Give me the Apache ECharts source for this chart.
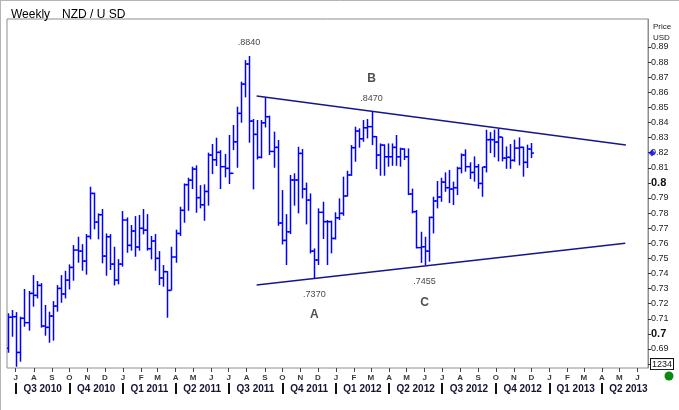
<!DOCTYPE html>
<html>
<head>
<meta charset="utf-8">
<script src="https://cdn.jsdelivr.net/npm/echarts@6/dist/echarts.min.js"></script>
<style>
  html, body { margin: 0; padding: 0; background: #fff; }
  #chart { width: 679px; height: 410px; }
</style>
</head>
<body>
<div id="chart"></div>
<script>
// weekly NZD/USD bars, first bar is the week of 18 Jun 2010
const firstWeek = [2010, 5, 18];

const opens = [
    0.6904, 0.7110, 0.7114, 0.6877, 0.7103, 0.7074, 0.7268, 0.7255, 0.7321, 0.7052,
    0.7043, 0.7118, 0.7184, 0.7301, 0.7264, 0.7356, 0.7440, 0.7555, 0.7548, 0.7482,
    0.7645, 0.7930, 0.7740, 0.7789, 0.7515, 0.7643, 0.7462, 0.7356, 0.7462, 0.7754,
    0.7586, 0.7681, 0.7575, 0.7699, 0.7687, 0.7564, 0.7615, 0.7500, 0.7370, 0.7412,
    0.7288, 0.7509, 0.7665, 0.7818, 0.7988, 0.8018, 0.8091, 0.7902, 0.7855, 0.7943,
    0.8184, 0.8153, 0.8202, 0.8107, 0.8096, 0.8063, 0.8272, 0.8460, 0.8654, 0.8787,
    0.8409, 0.8321, 0.8169, 0.8398, 0.8438, 0.8208, 0.8235, 0.7734, 0.7619, 0.7676,
    0.8019, 0.8019, 0.8195, 0.7959, 0.7886, 0.7548, 0.7489, 0.7805, 0.7743, 0.7743,
    0.7632, 0.7769, 0.7798, 0.7913, 0.8052, 0.8233, 0.8343, 0.8292, 0.8365, 0.8372,
    0.8306, 0.8184, 0.8250, 0.8173, 0.8173, 0.8235, 0.8173, 0.8224, 0.8173, 0.7926,
    0.7809, 0.7571, 0.7577, 0.7548, 0.7771, 0.7880, 0.7906, 0.8005, 0.7968, 0.7959,
    0.7968, 0.8096, 0.8184, 0.8107, 0.8069, 0.8107, 0.7996, 0.8105, 0.8286, 0.8286,
    0.8270, 0.8303, 0.8164, 0.8169, 0.8149, 0.8230, 0.8235, 0.8136, 0.8224
];
const highs = [
    0.7136, 0.7158, 0.7144, 0.7114, 0.7297, 0.7284, 0.7389, 0.7350, 0.7336, 0.7191,
    0.7147, 0.7217, 0.7323, 0.7389, 0.7418, 0.7460, 0.7588, 0.7643, 0.7594, 0.7661,
    0.7974, 0.7935, 0.7798, 0.7827, 0.7665, 0.7661, 0.7577, 0.7495, 0.7813, 0.7771,
    0.7721, 0.7780, 0.7787, 0.7827, 0.7793, 0.7648, 0.7661, 0.7548, 0.7456, 0.7416,
    0.7577, 0.7690, 0.7842, 0.7996, 0.8034, 0.8107, 0.8116, 0.7985, 0.7990, 0.8200,
    0.8257, 0.8299, 0.8217, 0.8191, 0.8317, 0.8383, 0.8504, 0.8670, 0.8813, 0.8840,
    0.8423, 0.8416, 0.8416, 0.8566, 0.8445, 0.8339, 0.8284, 0.7952, 0.7793, 0.8052,
    0.8063, 0.8239, 0.8224, 0.8002, 0.7930, 0.7566, 0.7831, 0.7875, 0.7754, 0.7750,
    0.7805, 0.7897, 0.8041, 0.8080, 0.8250, 0.8372, 0.8361, 0.8416, 0.8423, 0.8470,
    0.8310, 0.8261, 0.8255, 0.8261, 0.8261, 0.8317, 0.8233, 0.8228, 0.8228, 0.7962,
    0.7820, 0.7676, 0.7643, 0.7776, 0.7908, 0.8012, 0.8034, 0.8069, 0.8085, 0.8008,
    0.8107, 0.8195, 0.8222, 0.8136, 0.8175, 0.8125, 0.8105, 0.8352, 0.8336, 0.8352,
    0.8358, 0.8303, 0.8241, 0.8257, 0.8286, 0.8301, 0.8240, 0.8253, 0.8264
];
const lows = [
    0.6875, 0.6981, 0.6782, 0.6816, 0.7047, 0.7021, 0.7180, 0.7235, 0.7041, 0.6988,
    0.6941, 0.6955, 0.7147, 0.7206, 0.7235, 0.7294, 0.7352, 0.7471, 0.7418, 0.7392,
    0.7626, 0.7692, 0.7626, 0.7467, 0.7385, 0.7423, 0.7321, 0.7328, 0.7445, 0.7537,
    0.7551, 0.7511, 0.7551, 0.7659, 0.7551, 0.7493, 0.7418, 0.7323, 0.7312, 0.7107,
    0.7288, 0.7471, 0.7648, 0.7736, 0.7815, 0.7959, 0.7802, 0.7831, 0.7749, 0.7849,
    0.8058, 0.8111, 0.7959, 0.8036, 0.7992, 0.8217, 0.8100, 0.8398, 0.8566, 0.8266,
    0.7957, 0.8155, 0.8162, 0.8367, 0.8184, 0.8100, 0.7716, 0.7592, 0.7456, 0.7661,
    0.7849, 0.7798, 0.7897, 0.7725, 0.7533, 0.7370, 0.7456, 0.7628, 0.7456, 0.7533,
    0.7625, 0.7754, 0.7782, 0.7910, 0.8047, 0.8140, 0.8233, 0.8272, 0.8294, 0.8250,
    0.8091, 0.8047, 0.8047, 0.8107, 0.8113, 0.8113, 0.8107, 0.8151, 0.7919, 0.7798,
    0.7566, 0.7470, 0.7455, 0.7478, 0.7665, 0.7831, 0.7875, 0.7941, 0.7866, 0.7853,
    0.7919, 0.8063, 0.8074, 0.8025, 0.8008, 0.7961, 0.7908, 0.8069, 0.8197, 0.8169,
    0.8142, 0.8142, 0.8093, 0.8093, 0.8140, 0.8116, 0.8041, 0.8098, 0.8164
];
const closes = [
    0.7110, 0.7114, 0.6877, 0.7103, 0.7074, 0.7268, 0.7255, 0.7321, 0.7052, 0.7043,
    0.7118, 0.7184, 0.7301, 0.7264, 0.7356, 0.7440, 0.7555, 0.7548, 0.7482, 0.7645,
    0.7930, 0.7740, 0.7789, 0.7515, 0.7643, 0.7462, 0.7356, 0.7462, 0.7754, 0.7586,
    0.7681, 0.7575, 0.7699, 0.7687, 0.7564, 0.7615, 0.7500, 0.7370, 0.7412, 0.7288,
    0.7509, 0.7665, 0.7818, 0.7988, 0.8018, 0.8091, 0.7902, 0.7855, 0.7943, 0.8184,
    0.8153, 0.8202, 0.8107, 0.8096, 0.8063, 0.8272, 0.8460, 0.8654, 0.8787, 0.8409,
    0.8321, 0.8169, 0.8398, 0.8438, 0.8208, 0.8235, 0.7734, 0.7619, 0.7676, 0.8019,
    0.8019, 0.8195, 0.7959, 0.7886, 0.7548, 0.7489, 0.7805, 0.7743, 0.7743, 0.7632,
    0.7769, 0.7798, 0.7913, 0.8052, 0.8233, 0.8343, 0.8292, 0.8365, 0.8372, 0.8306,
    0.8184, 0.8250, 0.8173, 0.8173, 0.8235, 0.8173, 0.8224, 0.8173, 0.7926, 0.7809,
    0.7571, 0.7577, 0.7548, 0.7771, 0.7880, 0.7906, 0.8005, 0.7968, 0.7959, 0.7968,
    0.8096, 0.8184, 0.8107, 0.8069, 0.8107, 0.7996, 0.8105, 0.8286, 0.8286, 0.8270,
    0.8303, 0.8164, 0.8169, 0.8149, 0.8230, 0.8235, 0.8136, 0.8224, 0.8197
];

const yTicks = [0.68, 0.69, 0.7, 0.71, 0.72, 0.73, 0.74, 0.75, 0.76, 0.77, 0.78,
    0.79, 0.8, 0.81, 0.82, 0.83, 0.84, 0.85, 0.86, 0.87, 0.88, 0.89];
const monthLetters = ['J', 'F', 'M', 'A', 'M', 'J', 'J', 'A', 'S', 'O', 'N', 'D'];
const quarterNames = ['Q3 2010', 'Q4 2010', 'Q1 2011', 'Q2 2011', 'Q3 2011', 'Q4 2011',
    'Q1 2012', 'Q2 2012', 'Q3 2012', 'Q4 2012', 'Q1 2013', 'Q2 2013'];

// triangle trend lines
const upperDates = ['2011-08-18', '2013-05-12'];
const upperValues = [0.8575, 0.8250];
const lowerDates = ['2011-08-18', '2013-05-11'];
const lowerValues = [0.7323, 0.7600];

// annotated turning points (index into the weekly bars)
const noteWeeks = [59, 89, 75, 102];
const noteKinds = ['high', 'high', 'low', 'low'];
const noteTexts = ['.8840', '.8470', '.7370', '.7455'];
const waveLetters = ['', 'B', 'A', 'C'];

const axisStart = '2010-06-16';
const axisEnd = '2013-06-19';

function day(s) {
    const p = s.split('-').map(Number);
    return new Date(p[0], p[1] - 1, p[2]).getTime();
}

const weekTs = closes.map((c, i) => new Date(firstWeek[0], firstWeek[1], firstWeek[2] + 7 * i).getTime());
const bars = weekTs.map((t, i) => [t, opens[i], highs[i], lows[i], closes[i]]);

const monthStarts = [];
for (let k = 0; k < 36; k++) monthStarts.push(new Date(2010, 6 + k, 1).getTime());
const quarterStarts = quarterNames.map(q => {
    const qn = Number(q[1]);
    const yr = Number(q.slice(3));
    return new Date(yr, (qn - 1) * 3, 1).getTime();
});
const quarterMids = quarterStarts.map(t => {
    const d = new Date(t);
    const end = new Date(d.getFullYear(), d.getMonth() + 3, 1).getTime();
    return (t + end) / 2;
});

const FONT = '"Liberation Sans", Arial, sans-serif';
const BAR_BLUE = '#0000ff';
const LINE_NAVY = '#16168a';

function renderBar(params, api) {
    const t = api.value(0);
    const o = api.coord([t, api.value(1)]);
    const h = api.coord([t, api.value(2)]);
    const l = api.coord([t, api.value(3)]);
    const c = api.coord([t, api.value(4)]);
    const x = Math.round(h[0]) + 0.5;
    const style = { stroke: BAR_BLUE, lineWidth: 1.5 };
    return {
        type: 'group',
        children: [
            { type: 'line', shape: { x1: x, y1: h[1], x2: x, y2: l[1] }, style: style },
            { type: 'line', shape: { x1: x - 2.5, y1: o[1], x2: x, y2: o[1] }, style: style },
            { type: 'line', shape: { x1: x, y1: c[1], x2: x + 2.5, y2: c[1] }, style: style }
        ]
    };
}

const noteData = noteWeeks.map((w, i) => {
    const isHigh = noteKinds[i] === 'high';
    return {
        value: [weekTs[w], isHigh ? highs[w] : lows[w]],
        label: { position: isHigh ? 'top' : 'bottom', distance: isHigh ? 9 : 12, formatter: noteTexts[i] }
    };
});
const waveData = noteWeeks.map((w, i) => {
    const isHigh = noteKinds[i] === 'high';
    return {
        value: [weekTs[w], isHigh ? highs[w] : lows[w]],
        label: { position: isHigh ? 'top' : 'bottom', distance: isHigh ? 27 : 31, formatter: waveLetters[i] }
    };
});

const chart = echarts.init(document.getElementById('chart'));
const option = {
    animation: false,
    backgroundColor: '#fff',
    title: [
        { text: 'Weekly', left: 6, top: 4, textStyle: { fontFamily: FONT, fontSize: 12, fontWeight: 'normal', color: '#000' } },
        { text: 'NZD / U SD', left: 57, top: 4, textStyle: { fontFamily: FONT, fontSize: 12, fontWeight: 'normal', color: '#000' } }
    ],
    grid: {
        left: 7, right: 31, top: 19, bottom: 42,
        show: true, borderColor: '#8e8e8e', borderWidth: 1, backgroundColor: '#fff',
        outerBoundsMode: 'none'
    },
    xAxis: [
        {
            type: 'value',
            min: day(axisStart), max: day(axisEnd),
            axisLine: { show: false },
            splitLine: { show: false },
            axisTick: { show: true, customValues: monthStarts, length: 4, lineStyle: { color: '#444' } },
            axisLabel: {
                customValues: monthStarts, margin: 6, hideOverlap: false,
                fontFamily: FONT, fontSize: 8, fontWeight: 'bold', color: '#3a3a3a',
                formatter: v => monthLetters[new Date(v).getMonth()]
            }
        },
        {
            type: 'value',
            position: 'bottom',
            offset: 15,
            min: day(axisStart), max: day(axisEnd),
            axisLine: { show: false },
            splitLine: { show: false },
            axisTick: { show: true, customValues: quarterStarts, length: 11, lineStyle: { color: '#111', width: 2 } },
            axisLabel: {
                customValues: quarterMids, margin: 1, hideOverlap: false,
                fontFamily: FONT, fontSize: 10, fontWeight: 'bold', color: '#141432',
                formatter: v => {
                    const i = quarterMids.findIndex(m => Math.abs(m - v) < 86400000);
                    return i >= 0 ? quarterNames[i] : '';
                }
            }
        }
    ],
    yAxis: {
        type: 'value',
        position: 'right',
        min: 0.6774, max: 0.9085,
        name: 'Price\nUSD',
        nameLocation: 'end',
        nameGap: -2,
        nameMoveOverlap: false,
        nameTextStyle: { fontFamily: FONT, fontSize: 8, color: '#222', align: 'left', verticalAlign: 'top', lineHeight: 11, padding: [0, 0, 0, 5] },
        axisLine: { show: true, lineStyle: { color: '#8e8e8e' } },
        splitLine: { show: false },
        axisTick: { show: true, customValues: yTicks, length: 3, lineStyle: { color: '#333' } },
        axisLabel: {
            customValues: yTicks, margin: 3, hideOverlap: false,
            fontFamily: FONT, fontSize: 9, color: '#222',
            formatter: v => {
                const r = Math.round(v * 100) / 100;
                if (Math.abs(r - 0.68) < 1e-6) return '{box|1234}';
                if (Math.abs(r * 10 - Math.round(r * 10)) < 1e-6) return '{big|' + r + '}';
                return String(r);
            },
            rich: {
                big: { fontFamily: FONT, fontSize: 11, fontWeight: 'bold', color: '#111' },
                box: { fontFamily: FONT, fontSize: 9, color: '#111', borderColor: '#111', borderWidth: 1, padding: [1, 1, 0, 1], backgroundColor: '#fff' }
            }
        }
    },
    series: [
        {
            name: 'NZD/USD',
            type: 'custom',
            renderItem: renderBar,
            data: bars,
            encode: { x: 0, y: [1, 2, 3, 4] },
            clip: true,
            z: 2
        },
        {
            type: 'line',
            data: upperDates.map((d, i) => [day(d), upperValues[i]]),
            showSymbol: false, symbol: 'none',
            lineStyle: { color: LINE_NAVY, width: 1.5 },
            z: 3, silent: true
        },
        {
            type: 'line',
            data: lowerDates.map((d, i) => [day(d), lowerValues[i]]),
            showSymbol: false, symbol: 'none',
            lineStyle: { color: LINE_NAVY, width: 1.5 },
            z: 3, silent: true
        },
        {
            type: 'scatter',
            data: noteData,
            symbolSize: 0.1,
            itemStyle: { color: 'transparent' },
            label: { show: true, fontFamily: FONT, fontSize: 9, color: '#111' },
            silent: true, z: 4
        },
        {
            type: 'scatter',
            data: waveData,
            symbolSize: 0.1,
            itemStyle: { color: 'transparent' },
            label: { show: true, fontFamily: FONT, fontSize: 12, fontWeight: 'bold', color: '#222' },
            silent: true, z: 4
        },
        {
            // last price marker on the price scale
            type: 'scatter',
            data: [[day(axisEnd), closes[closes.length - 1]]],
            symbol: 'diamond',
            symbolSize: 7,
            symbolOffset: [4, 0],
            itemStyle: { color: BAR_BLUE },
            clip: false, silent: true, z: 5
        }
    ],
    graphic: [
        { type: 'line', shape: { x1: 0.5, y1: 0, x2: 0.5, y2: 410 }, style: { stroke: '#b4b4b4', lineWidth: 1 } },
        { type: 'line', shape: { x1: 0, y1: 0.5, x2: 679, y2: 0.5 }, style: { stroke: '#b4b4b4', lineWidth: 1 } },
        { type: 'circle', shape: { cx: 669, cy: 376, r: 4.5 }, style: { fill: '#0b8a0b' } }
    ]
};
chart.setOption(option);
</script>
</body>
</html>
